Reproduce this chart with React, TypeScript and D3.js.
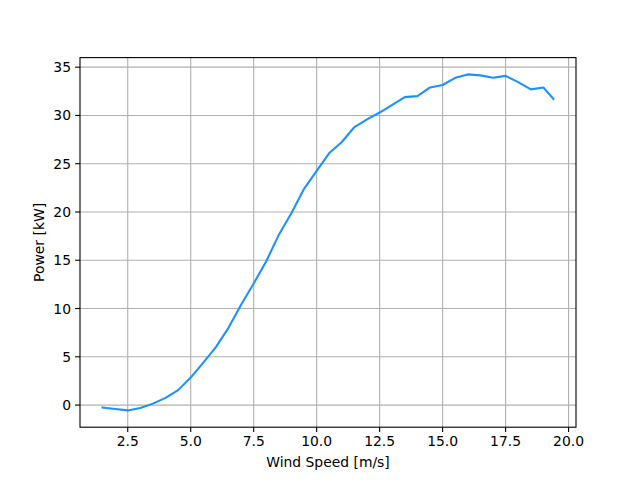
import React from "react";
import * as d3 from "d3";

const windSpeed = [1.5, 2.0, 2.5, 3.0, 3.5, 4.0, 4.5, 5.0, 5.5, 6.0, 6.5, 7.0, 7.5, 8.0, 8.5, 9.0, 9.5, 10.0, 10.5, 11.0, 11.5, 12.0, 12.5, 13.0, 13.5, 14.0, 14.5, 15.0, 15.5, 16.0, 16.5, 17.0, 17.5, 18.0, 18.5, 19.0, 19.4];
const power = [-0.25, -0.4, -0.55, -0.3, 0.15, 0.75, 1.55, 2.85, 4.4, 6.0, 8.0, 10.4, 12.6, 14.9, 17.65, 19.9, 22.4, 24.25, 26.1, 27.25, 28.8, 29.6, 30.3, 31.1, 31.9, 32.0, 32.9, 33.15, 33.9, 34.25, 34.15, 33.9, 34.1, 33.45, 32.7, 32.9, 31.7];
const xTicks = [2.5, 5.0, 7.5, 10.0, 12.5, 15.0, 17.5, 20.0];
const yTicks = [0, 5, 10, 15, 20, 25, 30, 35];

const W = 640, H = 480;
const L = 80, R = 576, T = 57.6, B = 427.2;

export default function App() {
  const xMin = d3.min(windSpeed)!, xMax = d3.max(windSpeed)!;
  const yMin = d3.min(power)!, yMax = d3.max(power)!;
  const xm = (xMax - xMin) * 0.05, ym = (yMax - yMin) * 0.05;
  const x = d3.scaleLinear().domain([xMin - xm, xMax + xm]).range([L, R]);
  const y = d3.scaleLinear().domain([yMin - ym, yMax + ym]).range([B, T]);
  const line = d3.line<number>().x((_, i) => x(windSpeed[i])).y((d) => y(d));
  const font = "DejaVu Sans, sans-serif";
  return (
    <svg width={W} height={H} style={{ position: "absolute", left: 0, top: 0, background: "#fff" }}>
      <rect x={0} y={0} width={W} height={H} fill="#fff" />
      <g>
        {xTicks.map((t) => (
          <line key={"gx" + t} x1={x(t)} x2={x(t)} y1={T} y2={B} stroke="#b0b0b0" strokeWidth={1.1} />
        ))}
        {yTicks.map((t) => (
          <line key={"gy" + t} x1={L} x2={R} y1={y(t)} y2={y(t)} stroke="#b0b0b0" strokeWidth={1.1} />
        ))}
      </g>
      <path d={line(power)!} fill="none" stroke="#1e90ff" strokeWidth={2.08} strokeLinejoin="round" strokeLinecap="square" />
      <rect x={L} y={T} width={R - L} height={B - T} fill="none" stroke="#000" strokeWidth={1.1} />
      {xTicks.map((t) => (
        <g key={"tx" + t}>
          <line x1={x(t)} x2={x(t)} y1={B} y2={B + 4.9} stroke="#000" strokeWidth={1.1} />
          <text x={x(t)} y={B + 19} textAnchor="middle" fontFamily={font} fontSize={13.9} fill="#000">
            {t.toFixed(1)}
          </text>
        </g>
      ))}
      {yTicks.map((t) => (
        <g key={"ty" + t}>
          <line x1={L - 4.9} x2={L} y1={y(t)} y2={y(t)} stroke="#000" strokeWidth={1.1} />
          <text x={L - 9} y={y(t)} dy="0.36em" textAnchor="end" fontFamily={font} fontSize={13.9} fill="#000">
            {t}
          </text>
        </g>
      ))}
      <text x={(L + R) / 2} y={467} textAnchor="middle" fontFamily={font} fontSize={13.9} fill="#000">
        Wind Speed [m/s]
      </text>
      <text transform={`translate(44, ${(T + B) / 2}) rotate(-90)`} textAnchor="middle" fontFamily={font} fontSize={13.9} fill="#000">
        Power [kW]
      </text>
    </svg>
  );
}
